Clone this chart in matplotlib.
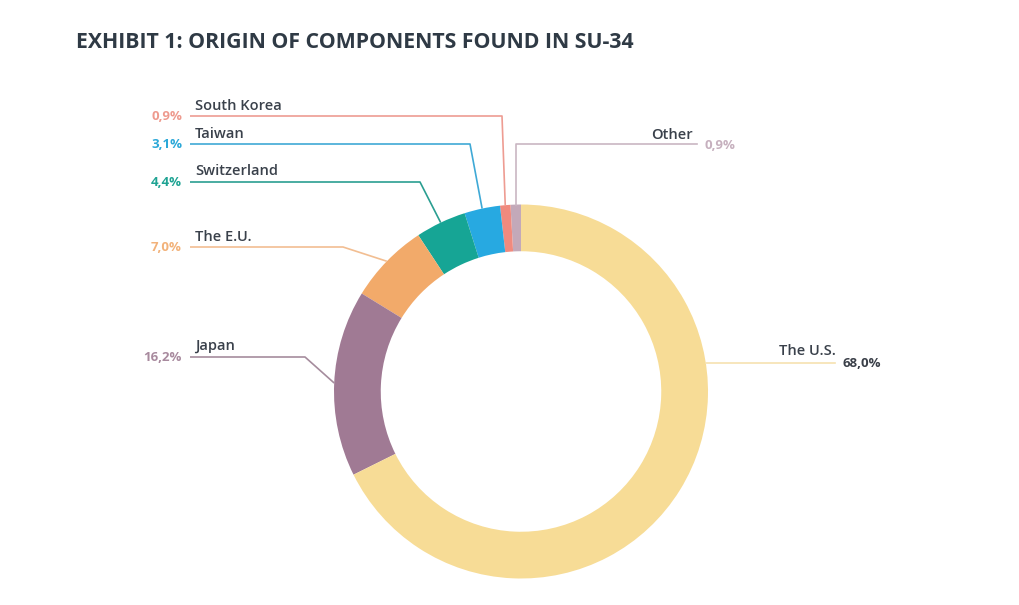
import numpy as np
import matplotlib.pyplot as plt

# values, counter-clockwise from 12 o'clock
countries = ["Other", "South Korea", "Taiwan", "Switzerland", "The E.U.", "Japan", "The U.S."]
shares = [0.9, 0.9, 3.1, 4.4, 7.0, 16.2, 68.0]
pct_labels = ["0,9%", "0,9%", "3,1%", "4,4%", "7,0%", "16,2%", "68,0%"]

colors = ["#C3A9B9", "#F08A7E", "#27A9E1", "#16A595", "#F2AA6A", "#A07A94", "#F7DC96"]
line_colors = ["#C9B6C2", "#EE9C92", "#3FA9D6", "#2A9E91", "#F2BE92", "#A58C9D", "#F6E2B0"]
pct_colors = ["#C6B0BE", "#EE9A8E", "#2BA8D8", "#1FA393", "#F2B27A", "#A88A9E", "#3A3F48"]
name_color = "#3A414B"

W, H = 1020, 605
plt.rcParams['font.family'] = ['Open Sans', 'DejaVu Sans']

fig = plt.figure(figsize=(W / 100, H / 100), dpi=100)
ax = fig.add_axes([0, 0, 1, 1])


def py(y):
    # pixel row (from top) -> axes y
    return H - y


cx, cy, r = 521, py(391.5), 187
wedges, _ = ax.pie(shares, colors=colors, startangle=90, counterclock=True,
                   radius=r, center=(cx, cy), frame=True,
                   wedgeprops=dict(width=r * 0.25, linewidth=0))
ax.set_xlim(0, W)
ax.set_ylim(0, H)
ax.set_aspect('equal')
ax.axis('off')

fig.text(76 / W, 1 - 42 / H, "EXHIBIT 1: ORIGIN OF COMPONENTS FOUND IN SU-34",
         fontsize=15.3, fontweight='bold', color="#2F3A45", va='center', ha='left')


def mid_point(w):
    a = np.deg2rad((w.theta1 + w.theta2) / 2)
    return cx + r * np.cos(a), cy + r * np.sin(a)


# left-hand labels: (name y, pct y, elbow x)
left = {
    "South Korea": (106, 116, 502),
    "Taiwan": (134, 144, 470),
    "Switzerland": (171, 182, 420),
    "The E.U.": (237, 247, 343),
    "Japan": (346, 357, 305),
}

for i, name in enumerate(countries):
    w = wedges[i]
    if name in left:
        ny, pyy, ex = left[name]
        axx, ayy = mid_point(w)
        ax.plot([190, ex, axx], [py(pyy), py(pyy), ayy], color=line_colors[i], lw=1.2,
                solid_capstyle='butt')
        ax.text(195, py(ny), name, fontsize=10.5, fontweight='semibold', color=name_color,
                ha='left', va='center')
        ax.text(182, py(pyy), pct_labels[i], fontsize=9.5, fontweight='bold',
                color=pct_colors[i], ha='right', va='center')
    elif name == "Other":
        axx, ayy = mid_point(w)
        ax.plot([axx, axx, 697], [ayy, py(144), py(144)], color=line_colors[i], lw=1.2)
        ax.text(693, py(135), name, fontsize=10.5, fontweight='semibold', color=name_color,
                ha='right', va='center')
        ax.text(705, py(145), pct_labels[i], fontsize=9.5, fontweight='bold',
                color=pct_colors[i], ha='left', va='center')
    else:
        ly = py(363)
        ex = cx + np.sqrt(r ** 2 - (ly - cy) ** 2)
        ax.plot([ex, 835], [ly, ly], color=line_colors[i], lw=1.2)
        ax.text(836, py(351), name, fontsize=10.5, fontweight='semibold', color=name_color,
                ha='right', va='center')
        ax.text(843, py(363), pct_labels[i], fontsize=9.5, fontweight='bold',
                color=pct_colors[i], ha='left', va='center')

fig.savefig("out.png", dpi=100, facecolor='white')
